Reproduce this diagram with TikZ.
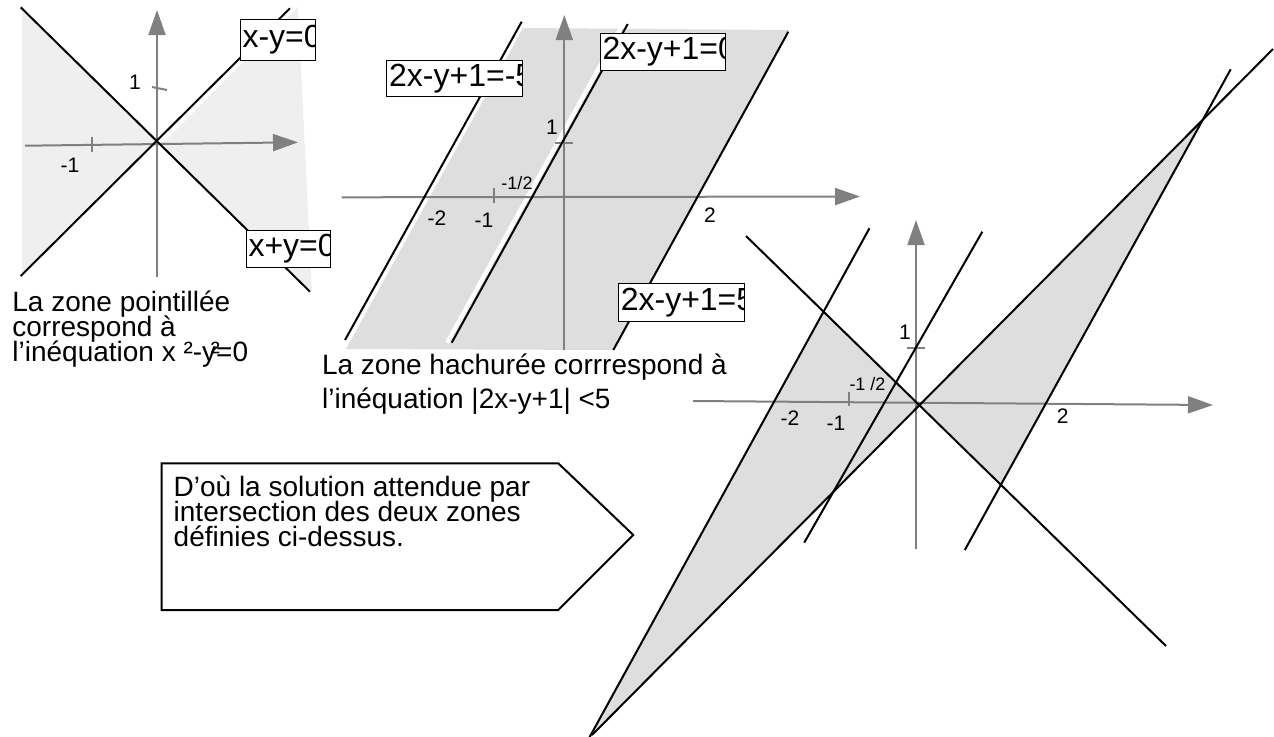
\documentclass[tikz,border=0pt]{standalone}
\usepackage{fontspec}
\setmainfont{Liberation Sans}
\usepackage{tikz}
\usetikzlibrary{arrows.meta}
\definecolor{axisgray}{RGB}{128,128,128}
\definecolor{zonelight}{RGB}{239,239,239}
\definecolor{zonegray}{RGB}{222,222,222}
\setlength{\lineskiplimit}{-20pt}

\begin{document}
\begin{tikzpicture}[x=0.5pt, y=-0.5pt,
  every node/.style={font=\fontsize{14}{12.5}\selectfont, align=left, inner sep=0pt},
  axis/.style={draw=axisgray, line width=1pt, -{Triangle[length=12.5pt, width=8.5pt]}},
  tick/.style={draw=axisgray, line width=1pt},
  droite/.style={draw=black, line width=1pt},
  num/.style={font=\fontsize{10.5}{12}\selectfont},
  half/.style={font=\fontsize{9}{10}\selectfont},
  eqn/.style={draw, fill=white, line width=0.5pt,
              path picture={\node[anchor=west, inner sep=1pt, font=\fontsize{16}{16}\selectfont]
                at (path picture bounding box.west) {#1};}}
]
  \useasboundingbox (0,0) rectangle (1274,736);

  % x^2-y^2>=0
  \fill[zonelight] (157,142) -- (22,9) -- (22,275) -- cycle;
  \fill[zonelight] (164,142) -- (298,7) -- (312,292) -- (157,142) -- cycle;
  \draw[axis] (25,145.7) -- (298,142.3);
  \draw[axis] (157,277) -- (157,10);
  \draw[tick] (92,137) -- (92,152);
  \draw[tick] (152,87) -- (167,90);
  \draw[droite] (20.7,7.3) -- (310,291.7);
  \draw[droite] (20.7,276) -- (290,8.3);
  \node[num] (a-m1) at (70,165) {-1};
  \node[num] (a-p1) at (135,82) {1};
  \node[eqn={x-y=0}, minimum width=37.5pt, minimum height=20.5pt] (a-xmy) at (277.5,39.5) {};
  \node[eqn={x+y=0}, minimum width=42pt, minimum height=18.5pt] (a-xpy) at (288,248.5) {};
  \node[anchor=base west] (a-txt) at (12,361.7)
       {La zone pointillée\\correspond à\\l’inéquation x ²-y\kern-.2em\rlap{²}\kern.2em=0};

  % |2x-y+1|<5
  \fill[zonegray] (523,28) -- (789,30) -- (613,350) -- (346,349) -- cycle;
  \draw[white, line width=2pt] (447,342.7) -- (623,24);
  \draw[axis] (341.7,197.3) -- (860,196.5);
  \draw[axis] (564.3,350) -- (564.3,15);
  \draw[tick] (555,143.3) -- (573,143.3);
  \draw[tick] (494.3,188) -- (494.3,203);
  \draw[droite] (345,340) -- (521.7,21.7);
  \draw[droite] (451.7,342.7) -- (627.7,24);
  \draw[droite] (613.3,350) -- (788.3,31.7);
  \node[num] (b-p1) at (552,127) {1};
  \node[half] (b-half) at (517,183) {-1/2};
  \node[num] (b-m2) at (437,218) {-2};
  \node[num] (b-m1) at (484,220) {-1};
  \node[num] (b-p2) at (710,215) {2};
  \node[eqn={2x-y+1=-5}, minimum width=68pt, minimum height=18.3pt] (b-lo) at (454.7,78.3) {};
  \node[eqn={2x-y+1=0}, minimum width=62.5pt, minimum height=18.3pt] (b-mid) at (662.5,51.7) {};
  \node[eqn={2x-y+1=5}, minimum width=63pt, minimum height=19.2pt] (b-hi) at (681.3,302.5) {};
  \node[anchor=base west, font=\fontsize{14}{17}\selectfont] (b-txt) at (321.7,408)
       {La zone hachurée corrrespond à\\l’inéquation |2x-y+1| <5};

  % intersection
  \coordinate (rise1) at (592,735);   \coordinate (rise2) at (1273,49);
  \coordinate (fall1) at (746,236);   \coordinate (fall2) at (1166,646);
  \coordinate (lo1) at (869.4,228.3); \coordinate (lo2) at (588,740);
  \coordinate (mid1) at (982.3,231.7); \coordinate (mid2) at (804.2,542.7);
  \coordinate (hi1) at (964.8,550);   \coordinate (hi2) at (1230.7,69.3);
  \fill[zonegray] (intersection of lo1--lo2 and fall1--fall2)
     -- (intersection of fall1--fall2 and rise1--rise2)
     -- (intersection of rise1--rise2 and lo1--lo2) -- cycle;
  \fill[zonegray] (intersection of fall1--fall2 and rise1--rise2)
     -- (intersection of fall1--fall2 and hi1--hi2)
     -- (intersection of hi1--hi2 and rise1--rise2) -- cycle;
  \draw[axis] (693,401) -- (1213,405);
  \draw[axis] (916,549) -- (916,220);
  \draw[tick] (907,348) -- (925,348);
  \draw[tick] (849,392) -- (849,406);
  \draw[droite] (rise1) -- (rise2);
  \draw[droite] (fall1) -- (fall2);
  \draw[droite] (lo1) -- (lo2);
  \draw[droite] (mid1) -- (mid2);
  \draw[droite] (hi1) -- (hi2);
  \node[num] (c-p1) at (905,332) {1};
  \node[half] (c-half) at (867.5,384) {-1 /2};
  \node[num] (c-m2) at (790,418) {-2};
  \node[num] (c-m1) at (836,423) {-1};
  \node[num] (c-p2) at (1062.6,416) {2};

  \draw[line width=1pt] (161.7,463.3) -- (558.3,463.3) -- (633.3,535) -- (558.3,610)
     -- (161.7,610) -- cycle;
  \node[anchor=base west] (concl) at (173.3,546.7)
       {D’où la solution attendue par\\intersection des deux zones\\définies ci-dessus.};
\end{tikzpicture}
\end{document}
